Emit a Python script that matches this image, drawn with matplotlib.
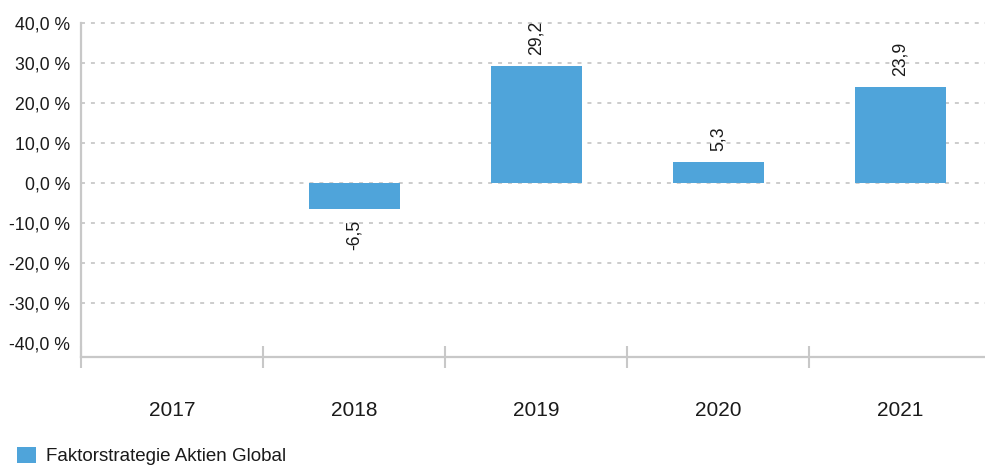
import matplotlib
matplotlib.use("Agg")
import matplotlib.pyplot as plt
import numpy as np

years = ["2017", "2018", "2019", "2020", "2021"]
values = [np.nan, -6.5, 29.2, 5.3, 23.9]
series_name = "Faktorstrategie Aktien Global"
y_ticks = [-40, -30, -20, -10, 0, 10, 20, 30, 40]

plt.rcParams['font.family'] = ['Liberation Sans', 'DejaVu Sans']

W, H = 985, 467
fig = plt.figure(figsize=(W / 100, H / 100), dpi=100)
left_px, right_px, top_px, bottom_px = 81, 991, 23, 357
ax = fig.add_axes([left_px / W, 1 - bottom_px / H, (right_px - left_px) / W, (bottom_px - top_px) / H])

bar_color = "#4FA4DA"
grid_color = "#C8C8C8"
text_color = "#1A1A1A"

x = np.arange(len(years))
bars = ax.bar(x, values, width=0.5, color=bar_color, label=series_name, zorder=3)

ax.set_xlim(-0.5, len(years) - 0.5)
ax.set_ylim(-43.5, 40)

# gridlines
for t in y_ticks:
    if t > min(y_ticks):
        ax.axhline(t, color=grid_color, lw=1.3, ls=(0, (2.2, 3.3)), zorder=1, clip_on=False)

ax.set_yticks(y_ticks)
ax.set_yticklabels([f"{t:.1f}".replace(".", ",") + " %" for t in y_ticks])
ax.tick_params(axis='y', length=0, pad=8, labelsize=12.7, labelcolor=text_color)

# category boundary ticks (major) and labels (minor)
ax.set_xticks(np.arange(-0.5, len(years), 1.0))
ax.set_xticklabels([])
ax.tick_params(axis='x', which='major', direction='inout', length=16, width=1.5, color=grid_color)
ax.set_xticks(x, minor=True)
ax.set_xticklabels(years, minor=True)
ax.tick_params(axis='x', which='minor', length=0, pad=32, labelsize=15, labelcolor=text_color)

for side in ["top", "right"]:
    ax.spines[side].set_visible(False)
for side in ["left", "bottom"]:
    ax.spines[side].set_color(grid_color)
    ax.spines[side].set_linewidth(1.6)

# value labels
for xi, v in zip(x, values):
    if np.isnan(v):
        continue
    txt = f"{v:.1f}".replace(".", ",")
    if v >= 0:
        ax.annotate(txt, (xi, v), xytext=(0, 8), textcoords='offset points',
                    rotation=90, ha='center', va='bottom', fontsize=12.7, color=text_color)
    else:
        ax.annotate(txt, (xi, v), xytext=(0, -8), textcoords='offset points',
                    rotation=90, ha='center', va='top', fontsize=12.7, color=text_color)

fig.legend(handles=[bars], labels=[series_name], loc='center left',
           bbox_to_anchor=(17 / W, 1 - 456 / H), frameon=False, borderpad=0,
           borderaxespad=0, fontsize=13.5, handlelength=1.0, handleheight=1.0,
           handletextpad=0.55, labelcolor=text_color)

fig.savefig("out.png", dpi=100)
